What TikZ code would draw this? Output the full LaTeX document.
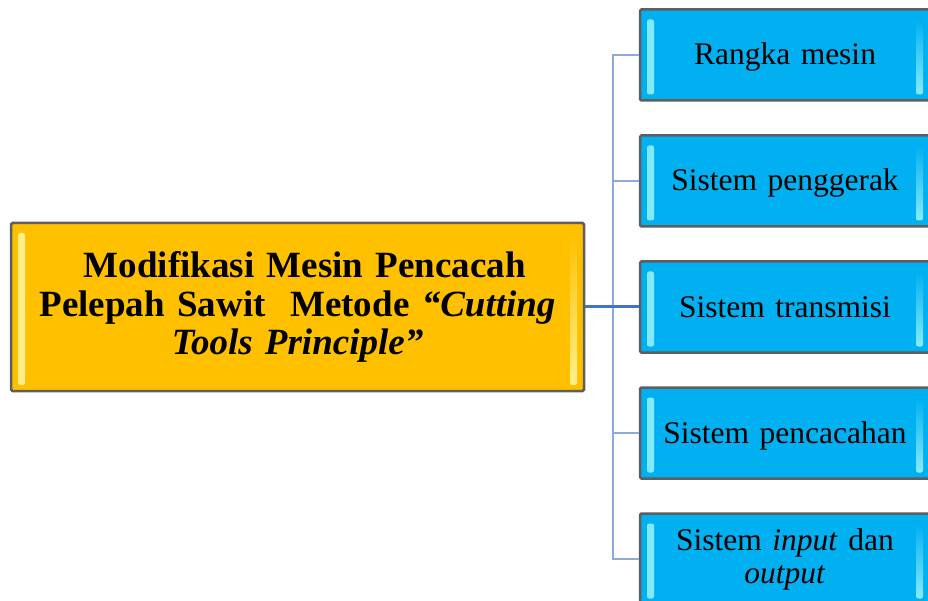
\documentclass[tikz,border=0pt]{standalone}
\usepackage{fontspec}
\setmainfont{Liberation Serif}
\usetikzlibrary{positioning}

\definecolor{partblue}{HTML}{00B0F0}
\definecolor{partlight}{HTML}{86ECFF}
\definecolor{titleorange}{HTML}{FFC000}
\definecolor{titlelight}{HTML}{FFF08C}
\definecolor{boxrim}{HTML}{5E5E5E}
\definecolor{branchblue}{HTML}{8EA9DB}
\definecolor{mainblue}{HTML}{4472C4}

\tikzset{
    bevel/.style 2 args={
        path picture={
            \shade[left color=#2, right color=#1, rounded corners=2pt]
                ([xshift=7pt,yshift=-10pt]path picture bounding box.north west)
                rectangle ([xshift=14pt,yshift=6pt]path picture bounding box.south west);
            \shade[left color=#2, right color=#1, shading angle=180, rounded corners=2pt]
                ([xshift=-14pt,yshift=-10pt]path picture bounding box.north east)
                rectangle ([xshift=-7pt,yshift=6pt]path picture bounding box.south east);
        }
    },
    partbox/.style={
        rectangle,
        rounded corners=1.5pt,
        draw=boxrim, line width=2.5pt,
        fill=partblue,
        bevel={partblue}{partlight},
        minimum width=290pt,
        minimum height=91pt,
        text width=260pt,
        align=center,
        font=\fontsize{31.5}{33}\selectfont
    },
    oneline/.style={text height=23pt, text depth=3pt},
    titlebox/.style={
        rectangle,
        rounded corners=1.5pt,
        draw=boxrim, line width=2.5pt,
        fill=titleorange,
        bevel={titleorange}{titlelight},
        minimum width=573pt,
        minimum height=168pt,
        text width=545pt,
        align=center,
        font=\fontsize{37}{38.5}\selectfont\bfseries
    },
    branch/.style={draw=branchblue, line width=2.6pt},
    trunk/.style={draw=mainblue, line width=3pt}
}

\begin{document}
\begin{tikzpicture}[x=1pt, y=-1pt, node distance=32.5pt]
    \useasboundingbox (0,0) rectangle (928,601);

    \node[titlebox] (title) at (297.5,307)
        {\hspace*{0.4em}Modifikasi Mesin Pencacah\\
         Pelepah Sawit\ \ Metode \textit{“Cutting}\\
         \textit{Tools Principle”}};

    \node[partbox, oneline] (rangka) at (785,55) {Rangka mesin};
    \node[partbox, oneline, below=of rangka] (penggerak) {Sistem penggerak};
    \node[partbox, oneline, below=of penggerak] (transmisi) {Sistem transmisi};
    \node[partbox, oneline, below=of transmisi] (pencacahan) {Sistem pencacahan};
    \node[partbox, below=of pencacahan] (inout) {Sistem \textit{input} dan\\ \textit{output}};

    % bus line left of the part boxes
    \coordinate (bus) at (613,0);
    \draw[branch] (rangka.west) -| (bus |- inout.west) -- (inout.west);
    \draw[branch] (bus |- penggerak.west) -- (penggerak.west);
    \draw[branch] (bus |- pencacahan.west) -- (pencacahan.west);

    \draw[trunk] (title.east) -- (transmisi.west);
\end{tikzpicture}
\end{document}
